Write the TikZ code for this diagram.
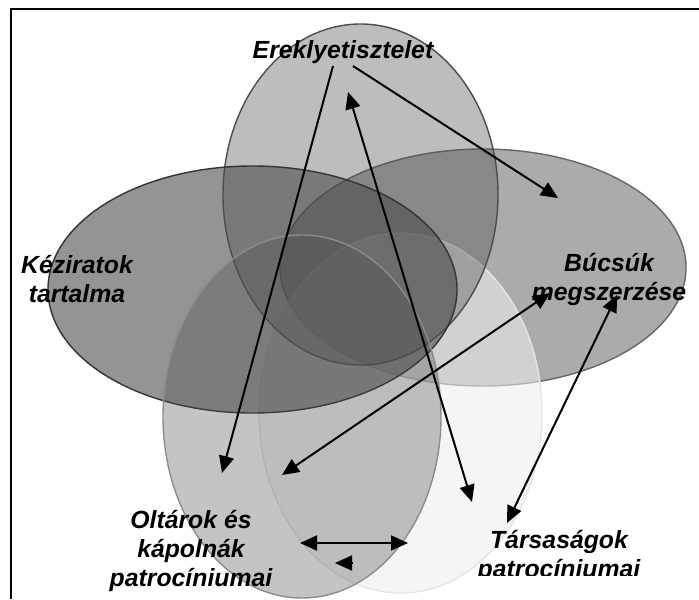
\documentclass[tikz,border=0pt]{standalone}
\usepackage{fontspec}
\setmainfont{Liberation Sans}
\usetikzlibrary{arrows.meta}

\definecolor{ringfill}{gray}{0.3}
\definecolor{palefill}{gray}{0.93}

\tikzset{
  lbl/.style={font=\bfseries\itshape\fontsize{12.4}{14.5}\selectfont, align=center, inner sep=0pt},
  ring/.style={fill=ringfill, line width=0.7pt},
  link/.style={line width=1pt, {Triangle[length=8.5pt,width=7.5pt]}-{Triangle[length=8.5pt,width=7.5pt]}},
  onelink/.style={line width=1pt, -{Triangle[length=8.5pt,width=7.5pt]}}
}

\begin{document}
\begin{tikzpicture}[x=0.5pt,y=-0.5pt]
  \useasboundingbox (0,0) rectangle (699,599);
  \draw[line width=0.8pt] (11,599) -- (11,9) -- (699,9);

  % Overlapping ellipses
  \filldraw[ring, fill opacity=0.47, draw=black!60] (483,267.5) ellipse [x radius=203, y radius=118.5];
  \filldraw[fill=palefill, fill opacity=0.58, draw=black!10, line width=0.7pt] (400.5,413) ellipse [x radius=141.5, y radius=180];
  \filldraw[ring, fill opacity=0.37, draw=black!70] (360.5,194.5) ellipse [x radius=137.5, y radius=170.5];
  \filldraw[ring, fill opacity=0.6, draw=black!80] (252.5,289.5) ellipse [x radius=204.5, y radius=123.5];
  \filldraw[ring, fill opacity=0.33, draw=black!45] (302,416.5) ellipse [x radius=139, y radius=181.5];

  % Labels
  \node[lbl] (erek) at (343,52) {Ereklyetisztelet};
  \node[lbl] (kezir) at (77,279) {Kéziratok\\tartalma};
  \node[lbl] (bucsu) at (609,279) {Búcsúk\\megszerzése};
  \node[lbl] (oltar) at (191,551) {Oltárok és\\kápolnák\\patrocíniumai};
  \begin{scope}
    \clip (440,520) rectangle (699,575);
    \node[lbl] (tars) at (559,556) {Társaságok\\patrocíniumai};
  \end{scope}

  % Arrow ends
  \coordinate (eL) at (333,66);
  \coordinate (eR) at (353,66);
  \coordinate (eM) at (348,92);
  \coordinate (oA) at (222,473);
  \coordinate (oB) at (282,475);
  \coordinate (bA) at (558,198);
  \coordinate (bL) at (550,293);
  \coordinate (bR) at (617,295);
  \coordinate (tA) at (472,502);
  \coordinate (tB) at (507,523);
  \coordinate (oC) at (300,543);
  \coordinate (oD) at (408,543);
  \coordinate (oE) at (352,563);
  \coordinate (oF) at (335,563);

  % Links
  \draw[onelink] (eL) -- (oA);
  \draw[onelink] (eR) -- (bA);
  \draw[link] (eM) -- (tA);
  \draw[link] (bL) -- (oB);
  \draw[link] (bR) -- (tB);
  \draw[link] (oC) -- (oD);
  \draw[onelink] (oE) -- (oF);
\end{tikzpicture}
\end{document}
